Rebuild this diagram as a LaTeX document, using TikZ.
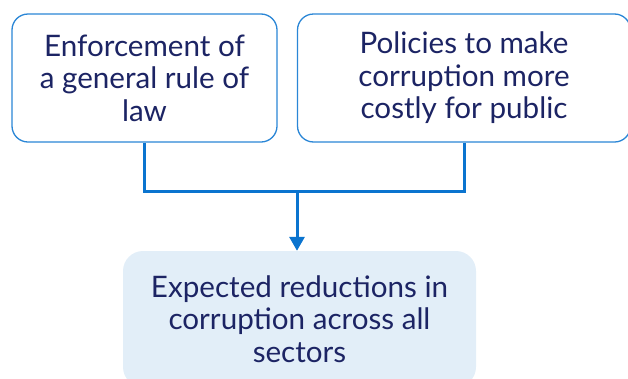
\documentclass[tikz,border=0pt]{standalone}
\usepackage{fontspec}
\setmainfont{Lato}
\usetikzlibrary{arrows.meta}
\definecolor{navy}{HTML}{1C2464}
\definecolor{edgeblue}{HTML}{2A86D6}
\definecolor{linkblue}{HTML}{0B74CF}
\definecolor{paleblue}{HTML}{E2EEF8}
\tikzset{
  topbox/.style={draw=edgeblue, line width=1.3pt, fill=white, rounded corners=16pt,
    text=navy, align=center, inner sep=0pt, font=\fontsize{29.6}{32.5}\selectfont},
  resultbox/.style={fill=paleblue, rounded corners=20pt, text=navy, align=center,
    inner sep=0pt, font=\fontsize{29.6}{32.5}\selectfont},
  link/.style={draw=linkblue, line width=3pt},
}
\begin{document}
\begin{tikzpicture}[x=1pt,y=1pt]
\useasboundingbox (0,0) rectangle (628,-378);
\clip (0,0) rectangle (628,-378);
\node[topbox, minimum width=265pt, minimum height=128pt] (L) at (144.5,-78)
  {Enforcement of\\a general rule of\\law};
\node[topbox, minimum width=333pt, minimum height=128pt] (R) at (464,-78)
  {Policies to make\\corruption more\\costly for public};
\node[resultbox, minimum width=353pt, minimum height=136pt] (B) at (299.5,-319)
  {Expected reductions in\\corruption across all\\sectors};
\coordinate (J) at (297,-191);
\draw[link] (L.south) |- (J);
\draw[link] (R.south) |- (J);
\draw[link, -{Triangle[width=15pt,length=14pt]}] (J) -- (J |- B.north);
\end{tikzpicture}
\end{document}
